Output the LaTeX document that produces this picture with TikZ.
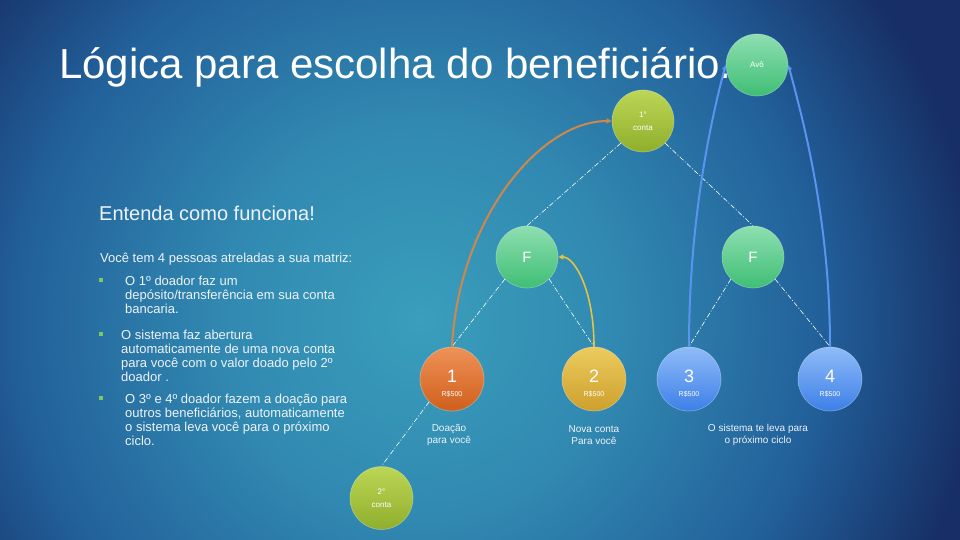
\documentclass[tikz,border=0pt]{standalone}
\usepackage{fontspec}
\setmainfont{Liberation Sans}
\usetikzlibrary{arrows.meta}
\definecolor{bgA}{HTML}{3A9EBC}
\definecolor{bgB}{HTML}{3189B1}
\definecolor{bgC}{HTML}{22609A}
\definecolor{bgD}{HTML}{172F66}
\definecolor{txt}{HTML}{EEF3F8}
\definecolor{bulg}{HTML}{7DC66A}
\definecolor{gT}{HTML}{8EDFB1}
\definecolor{gB}{HTML}{3FBE74}
\definecolor{cT}{HTML}{BCD655}
\definecolor{cB}{HTML}{8FAF2C}
\definecolor{oT}{HTML}{EE9257}
\definecolor{oB}{HTML}{CF5F1C}
\definecolor{yT}{HTML}{ECCB5E}
\definecolor{yB}{HTML}{CDA02D}
\definecolor{bT}{HTML}{8FBCF8}
\definecolor{bB}{HTML}{3D7FE8}
\definecolor{arO}{HTML}{D2874A}
\definecolor{arY}{HTML}{E3C343}
\definecolor{arB}{HTML}{5894F0}
\pgfdeclareradialshading{bgshade}{\pgfpoint{0bp}{0bp}}{color(0bp)=(bgA); color(7bp)=(bgB); color(14.3bp)=(bgC); color(20bp)=(bgD); color(50bp)=(bgD)}
\tikzset{
  ball/.style={circle, inner sep=0pt, minimum size=62pt, draw=white, draw opacity=0.3,
    line width=0.7pt, text=white, align=center, font=\fontsize{8}{13}\selectfont},
  greenball/.style={ball, top color=gT, bottom color=gB},
  contaball/.style={ball, top color=cT, bottom color=cB},
  numball/.style={ball, minimum size=64pt, font=\fontsize{7}{14.5}\selectfont},
  bigf/.style={font=\fontsize{15}{15}\selectfont},
  treeline/.style={draw=white, line width=0.6pt, dash pattern=on 5pt off 2pt on 1pt off 2pt},
  tip/.style={-{Triangle[length=5pt,width=5pt]}},
  body/.style={inner sep=0pt, text=txt, align=left, font=\fontsize{13}{14.2}\selectfont},
  lab/.style={inner sep=0pt, text=txt, align=center, font=\fontsize{10}{12}\selectfont},
  bul/.style={rectangle, fill=bulg, minimum size=3.2pt, inner sep=0pt}
}
\newcommand{\numtxt}[1]{{\fontsize{18}{14.5}\selectfont\rule{0pt}{21pt}#1}\\R\$500}
\begin{document}
\begin{tikzpicture}[x=1pt,y=-1pt]
\useasboundingbox (0,0) rectangle (960,540);
\begin{scope}
  \clip (0,0) rectangle (960,540);
  \fill[bgD] (0,0) rectangle (960,540);
  \shade[shading=bgshade] (420,320) circle (700pt);
\end{scope}

% texts
\node[anchor=base west, inner sep=0pt, text=white, font=\fontsize{42}{42}\selectfont] (title) at (59,79) {Lógica para escolha do beneficiário.};
\node[anchor=base west, inner sep=0pt, text=txt, font=\fontsize{20}{24}\selectfont] (sub) at (99,220) {Entenda como funciona!};
\node[body, anchor=base west] (intro) at (100,262) {Você tem 4 pessoas atreladas a sua matriz:};
\node[bul] (d1) at (101,280) {};
\node[bul] (d2) at (101,334) {};
\node[bul] (d3) at (101,398) {};
\node[body, anchor=north west] (b1) at (125,275.5) {O 1º doador faz um\\depósito/transferência em sua conta\\bancaria.};
\node[body, anchor=north west] (b2) at (121,329.5) {O sistema faz abertura\\automaticamente de uma nova conta\\para você com o valor doado pelo 2º\\doador .};
\node[body, anchor=north west] (b3) at (125,393.5) {O 3º e 4º doador fazem a doação para\\outros beneficiários, automaticamente\\o sistema leva você para o próximo\\ciclo.};

% circles
\node[greenball] (av) at (757,65) {Avô};
\node[contaball] (c1) at (643,121) {1°\\conta};
\node[greenball, bigf] (fl) at (527,257) {F};
\node[greenball, bigf] (fr) at (753,257) {F};
\node[numball, top color=oT, bottom color=oB] (n1) at (452,379) {\numtxt{1}};
\node[numball, top color=yT, bottom color=yB] (n2) at (594,379) {\numtxt{2}};
\node[numball, top color=bT, bottom color=bB] (n3) at (689,379) {\numtxt{3}};
\node[numball, top color=bT, bottom color=bB] (n4) at (830,379) {\numtxt{4}};
\node[contaball, minimum size=63pt] (c2) at (381.5,498) {2°\\conta};

\node[lab] (l1) at (449,435) {Doação\\para você};
\node[lab] (l2) at (594,435) {Nova conta\\Para você};
\node[lab] (l3) at (758,435) {O sistema te leva para\\o próximo ciclo};

% tree lines
\draw[treeline] (c1.south west) -- (fl.north);
\draw[treeline] (c1.south east) -- (fr.north);
\draw[treeline] (fl.south west) -- (n1.north);
\draw[treeline] (fl.south east) -- (n2.north);
\draw[treeline] (fr.south west) -- (n3.north);
\draw[treeline] (fr.south east) -- (n4.north);
\draw[treeline] (n1.south west) -- (c2.north);

% arrows
\draw[tip, draw=arO, line width=2pt] (n1.north) to[out=87, in=180, out distance=127pt, in distance=72pt] (c1.west);
\draw[tip, draw=arY, line width=1.6pt] (n2.north) to[out=90, in=0, out distance=57pt, in distance=16pt] (fl.east);
\draw[tip, draw=arB, line width=2pt] (n3.north) to[out=90, in=255, out distance=127pt, in distance=57pt] (av.west);
\draw[tip, draw=arB, line width=2pt] (n4.north) to[out=90, in=285, out distance=127pt, in distance=57pt] (av.east);
\end{tikzpicture}
\end{document}
